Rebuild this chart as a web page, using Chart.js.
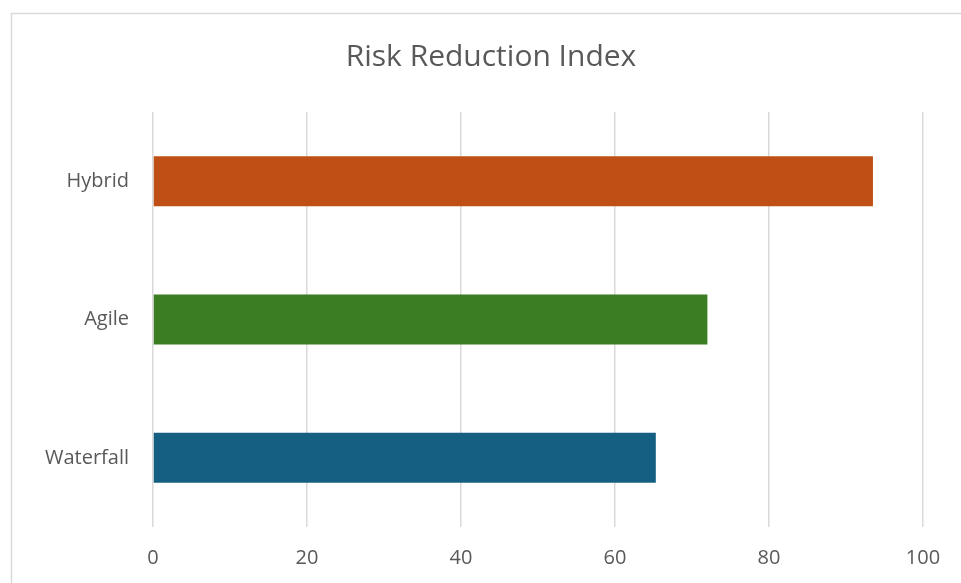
<!DOCTYPE html>
<html>
<head>
<meta charset="utf-8">
<title>Risk Reduction Index</title>
<script src="https://cdn.jsdelivr.net/npm/chart.js@4.4.1/dist/chart.umd.min.js"></script>
<style>
  html, body { margin: 0; padding: 0; background: #ffffff; }
  #wrap { position: relative; width: 961px; height: 583px; }
  canvas { display: block; }
</style>
</head>
<body>
<div id="wrap"><canvas id="chart" width="961" height="583"></canvas></div>
<script>
// Methodologies, top to bottom
const categories = ['Hybrid', 'Agile', 'Waterfall'];
// Risk reduction index score per methodology
const riskIndex = [93.5, 72, 65.3];
// Fill colour per methodology
const barColors = ['#C04F15', '#3A7D22', '#156082'];
// Value axis ticks
const axisMin = 0;
const axisMax = 100;
const axisStep = 20;

const FONT = "'Open Sans', 'DejaVu Sans', sans-serif";
const TEXT = '#595959';
const LINE = '#D9D9D9';

// Light frame around the chart
const framePlugin = {
  id: 'frame',
  beforeDraw(chart) {
    const ctx = chart.ctx;
    ctx.save();
    ctx.strokeStyle = LINE;
    ctx.lineWidth = 1.5;
    ctx.strokeRect(11.5, 13.5, chart.width + 20, chart.height + 20);
    ctx.restore();
  },
  // centre the title within the framed area rather than the full canvas
  afterLayout(chart) {
    if (chart.titleBlock) {
      chart.titleBlock.left = 59;
    }
  }
};

new Chart(document.getElementById('chart'), {
  type: 'bar',
  data: {
    labels: categories,
    datasets: [{
      label: 'Risk Reduction Index',
      data: riskIndex,
      backgroundColor: barColors,
      borderWidth: 0,
      categoryPercentage: 1,
      barPercentage: 0.362
    }]
  },
  options: {
    indexAxis: 'y',
    responsive: false,
    animation: false,
    devicePixelRatio: 1,
    layout: { padding: { left: 0, right: 38, top: 0, bottom: 0 } },
    plugins: {
      legend: { display: false },
      tooltip: { enabled: false },
      title: {
        display: true,
        text: 'Risk Reduction Index',
        color: TEXT,
        font: { family: FONT, size: 30, weight: 'normal', lineHeight: 1.2 },
        padding: { top: 39, bottom: 37 }
      }
    },
    scales: {
      x: {
        type: 'linear',
        position: 'bottom',
        min: axisMin,
        max: axisMax,
        ticks: {
          stepSize: axisStep,
          color: TEXT,
          font: { family: FONT, size: 20 },
          padding: 19
        },
        grid: { color: LINE, lineWidth: 1.5, drawTicks: false },
        border: { display: false },
        afterFit(scale) { scale.height = 56; }
      },
      y: {
        type: 'category',
        ticks: {
          color: TEXT,
          font: { family: FONT, size: 20 },
          padding: 24
        },
        grid: { display: false, drawTicks: false },
        border: { display: false },
        afterFit(scale) { scale.width = 153; }
      }
    }
  },
  plugins: [framePlugin]
});
</script>
</body>
</html>
